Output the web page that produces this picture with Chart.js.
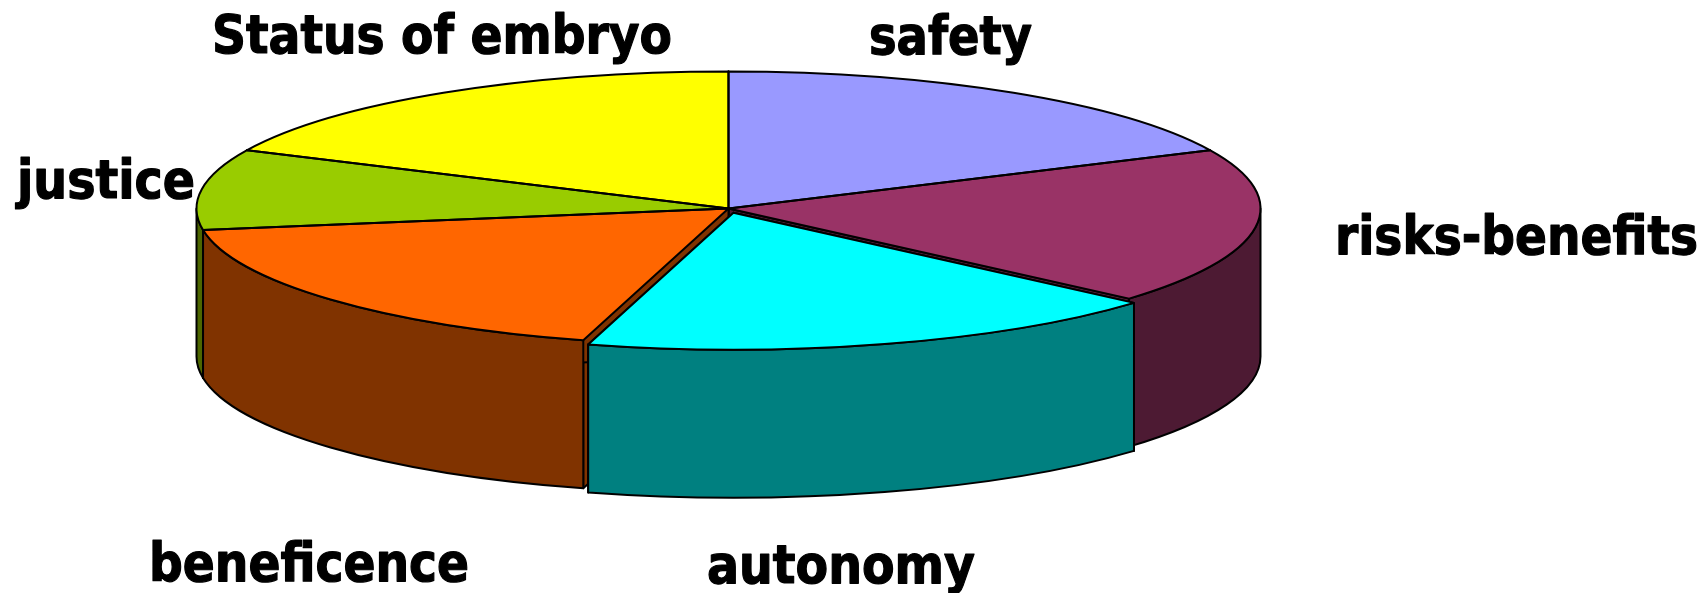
<!DOCTYPE html>
<html>
<head>
<meta charset="utf-8">
<style>
  html, body { margin: 0; padding: 0; background: #fff; }
  canvas { display: block; }
</style>
<script src="https://cdn.jsdelivr.net/npm/chart.js@4"></script>
</head>
<body>
<canvas id="myChart" width="1707" height="593"></canvas>
<script>
// clockwise from 12 o'clock, share of the pie in percent
const topics = ['safety', 'risks-benefits', 'autonomy', 'beneficence', 'justice', 'Status of embryo'];
const shares = [18, 18.43, 17.97, 18.1, 9.5, 18];

const topColors = ['#9999FF', '#993366', '#00FFFF', '#FF6600', '#99CC00', '#FFFF00'];
const wallColors = ['#4D4D80', '#4D1A33', '#008080', '#803300', '#4D6600', '#808000'];

// text anchor x, baseline y and width for each topic, same order as topics
const labelX = [869, 1335, 707, 149, 17, 212];
const labelY = [54, 254, 583, 581, 198, 53];
const labelW = [163, 363, 268, 320, 178, 460];

// the tilted pie on the page
const pie = { cx: 728.5, cy: 208.5, rx: 532, ry: 137, depth: 148 };
// back to front
const paintOrder = [5, 0, 4, 1, 3, 2];

function tilt(arc) {
    return { sx: pie.rx / arc.outerRadius, sy: pie.ry / arc.outerRadius };
}

// same shift the arc element applies for its offset option
function arcCenter(arc) {
    const t = tilt(arc);
    const half = (arc.startAngle + arc.endAngle) / 2;
    const off = (arc.options.offset || 0) / 4;
    const fix = 1 - Math.sin(Math.min(Math.PI, arc.circumference));
    const d = off + off * fix;
    return {
        x: pie.cx + Math.cos(half) * d * t.sx,
        y: pie.cy + Math.sin(half) * d * t.sy
    };
}

function drawCutFaces(ctx, arc, color) {
    const c = arcCenter(arc);
    [arc.startAngle, arc.endAngle].forEach(function(a) {
        const ex = c.x + Math.cos(a) * pie.rx;
        const ey = c.y + Math.sin(a) * pie.ry;
        ctx.beginPath();
        ctx.moveTo(c.x, c.y);
        ctx.lineTo(ex, ey);
        ctx.lineTo(ex, ey + pie.depth);
        ctx.lineTo(c.x, c.y + pie.depth);
        ctx.closePath();
        ctx.fillStyle = color;
        ctx.fill();
        ctx.stroke();
    });
}

function drawWall(ctx, arc, color) {
    const c = arcCenter(arc);
    // only the front half of the rim can be seen
    const ranges = [[0, Math.PI], [2 * Math.PI, 3 * Math.PI], [-2 * Math.PI, -Math.PI]];
    ranges.forEach(function(r) {
        const a0 = Math.max(arc.startAngle, r[0]);
        const a1 = Math.min(arc.endAngle, r[1]);
        if (a1 <= a0) return;
        ctx.beginPath();
        ctx.ellipse(c.x, c.y, pie.rx, pie.ry, 0, a0, a1);
        ctx.ellipse(c.x, c.y + pie.depth, pie.rx, pie.ry, 0, a1, a0, true);
        ctx.closePath();
        ctx.fillStyle = color;
        ctx.fill();
        ctx.stroke();
    });
}

const tiltedPie = {
    id: 'tiltedPie',
    beforeDatasetsDraw(chart) {
        const ctx = chart.ctx;
        const arcs = chart.getDatasetMeta(0).data;
        ctx.save();
        ctx.strokeStyle = '#000';
        ctx.lineWidth = 2;
        ctx.lineJoin = 'round';
        paintOrder.forEach(function(i) {
            drawCutFaces(ctx, arcs[i], wallColors[i]);
            drawWall(ctx, arcs[i], wallColors[i]);
        });
        ctx.restore();
        // library draws the top faces squashed into the ellipse
        const t = tilt(arcs[0]);
        ctx.save();
        ctx.translate(pie.cx, pie.cy);
        ctx.scale(t.sx, t.sy);
        ctx.translate(-arcs[0].x, -arcs[0].y);
    },
    afterDatasetsDraw(chart) {
        const ctx = chart.ctx;
        const arcs = chart.getDatasetMeta(0).data;
        ctx.restore();
        ctx.save();
        ctx.strokeStyle = '#000';
        ctx.lineWidth = 2;
        ctx.lineJoin = 'round';
        paintOrder.forEach(function(i) {
            const c = arcCenter(arcs[i]);
            ctx.beginPath();
            ctx.moveTo(c.x, c.y);
            ctx.ellipse(c.x, c.y, pie.rx, pie.ry, 0, arcs[i].startAngle, arcs[i].endAngle);
            ctx.closePath();
            ctx.stroke();
        });
        ctx.fillStyle = '#000';
        ctx.lineWidth = 1.2;
        ctx.font = 'bold 54px "DejaVu Sans Condensed", "DejaVu Sans"';
        ctx.textBaseline = 'alphabetic';
        topics.forEach(function(name, i) {
            ctx.fillText(name, labelX[i], labelY[i], labelW[i]);
            ctx.strokeText(name, labelX[i], labelY[i], labelW[i]);
        });
        ctx.restore();
    }
};

var myChart = new Chart(document.getElementById('myChart'), {
    type: 'pie',
    data: {
        labels: topics,
        datasets: [{
            data: shares,
            backgroundColor: topColors,
            borderWidth: 0,
            offset: [0, 0, 33, 0, 0, 0],
            clip: false
        }]
    },
    options: {
        responsive: false,
        animation: false,
        events: [],
        plugins: {
            legend: { display: false },
            tooltip: { enabled: false }
        }
    },
    plugins: [tiltedPie]
});
</script>
</body>
</html>
